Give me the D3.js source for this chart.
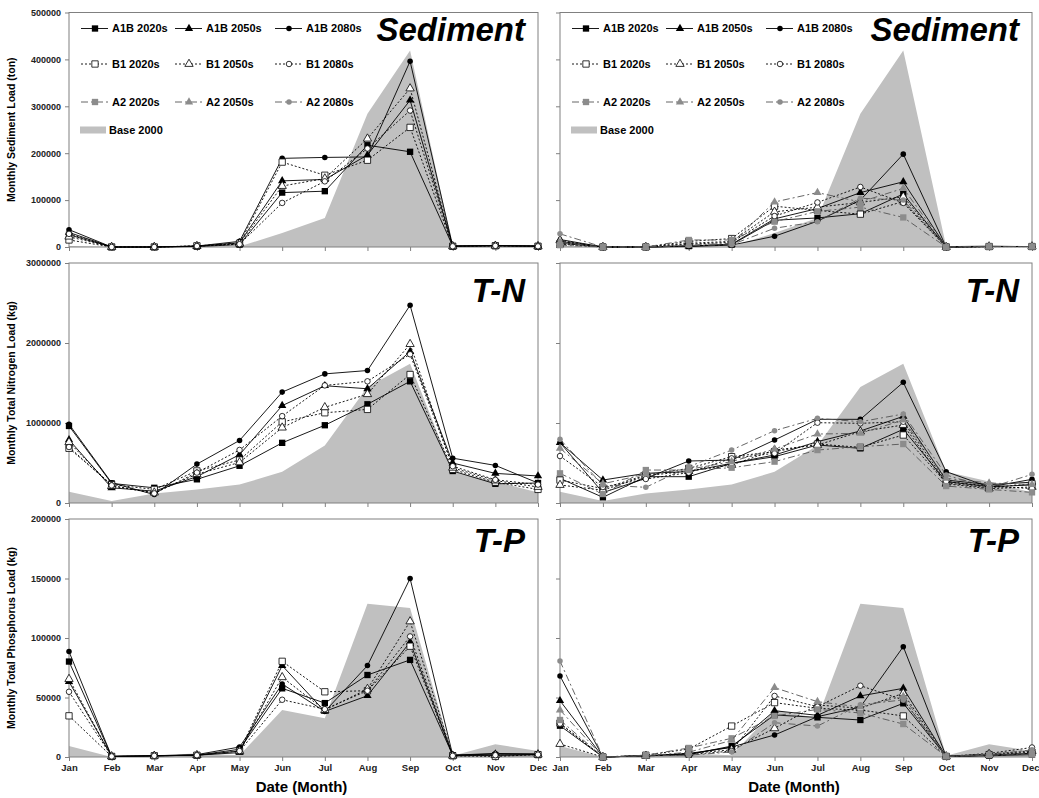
<!DOCTYPE html>
<html>
<head>
<meta charset="utf-8">
<script src="https://cdn.jsdelivr.net/npm/d3@7"></script>
<style>
  body { margin: 0; background: #fff; }
  text { font-family: Arial, "Liberation Sans", sans-serif; }
</style>
</head>
<body>
<svg id="chart" width="1039" height="798"></svg>
<script>
// ---- data ----
const months = ['Jan','Feb','Mar','Apr','May','Jun','Jul','Aug','Sep','Oct','Nov','Dec'];
const periods = ['2020s','2050s','2080s'];
const sedTicks = [0, 100000, 200000, 300000, 400000, 500000];
const tnTicks = [0, 1000000, 2000000, 3000000];
const tpTicks = [0, 50000, 100000, 150000, 200000];

const sedBase = [2000, 0, 0, 0, 1000, 30000, 62000, 284000, 419000, 1000, 5000, 1000];
const tnBase = [140000, 25000, 120000, 170000, 230000, 390000, 720000, 1450000, 1740000, 390000, 270000, 130000];
const tpBase = [9300, 0, 1500, 3000, 1500, 39400, 32600, 128800, 125200, 1000, 10700, 5000];

// left panels: A1B and B1 ; rows = 2020s, 2050s, 2080s
const sedLeftA1B = [
  [26000, 0, 0, 1000, 5000, 116000, 119000, 217000, 203000, 2000, 3000, 2000],
  [31000, 0, 0, 1500, 9000, 141000, 144000, 196000, 313000, 2000, 3000, 2000],
  [37000, 0, 0, 2000, 12000, 189000, 191000, 192000, 396000, 2000, 3000, 2000]
];
const sedLeftB1 = [
  [15000, 0, 0, 2500, 8000, 181000, 153000, 185000, 255000, 1500, 2500, 1500],
  [22000, 0, 0, 2000, 7000, 130000, 146000, 231000, 338000, 1500, 2500, 1500],
  [28000, 0, 0, 2000, 6000, 94000, 140000, 210000, 291000, 1500, 2500, 1500]
];
const sedRightA1B = [
  [8000, 0, 0, 2000, 5000, 57000, 62000, 71000, 113000, 0, 1000, 1000],
  [16000, 0, 0, 2000, 6000, 60000, 82000, 116000, 139000, 0, 1000, 1000],
  [12000, 0, 0, 1000, 4000, 23000, 55000, 100000, 198000, 0, 1000, 1000]
];
const sedRightB1 = [
  [6000, 0, 0, 12000, 18000, 87000, 78000, 70000, 97000, 0, 1000, 1000],
  [14000, 0, 0, 8000, 12000, 75000, 85000, 95000, 107000, 0, 1000, 1000],
  [10000, 0, 0, 6000, 10000, 66000, 95000, 128000, 94000, 0, 1000, 1000]
];
const sedRightA2 = [
  [4000, 0, 0, 15000, 15000, 54000, 76000, 85000, 63000, 0, 1000, 1000],
  [10000, 0, 0, 4000, 8000, 96000, 116000, 96000, 125000, 0, 1000, 1000],
  [28000, 0, 0, 3000, 5000, 40000, 54000, 104000, 100000, 0, 1000, 1000]
];

const tnLeftA1B = [
  [963000, 245000, 190000, 296000, 465000, 752000, 972000, 1234000, 1521000, 400000, 240000, 250000],
  [790000, 190000, 148000, 330000, 604000, 1217000, 1466000, 1428000, 1893000, 500000, 370000, 338000],
  [984000, 253000, 105000, 486000, 782000, 1386000, 1614000, 1656000, 2472000, 560000, 470000, 250000]
];
const tnLeftB1 = [
  [684000, 230000, 170000, 401000, 537000, 1014000, 1128000, 1170000, 1606000, 420000, 260000, 170000],
  [760000, 210000, 130000, 360000, 507000, 942000, 1196000, 1360000, 1986000, 440000, 280000, 200000],
  [700000, 220000, 120000, 380000, 663000, 1086000, 1470000, 1521000, 1859000, 460000, 290000, 230000]
];
const tnRightA1B = [
  [308000, 71000, 329000, 329000, 496000, 579000, 725000, 683000, 921000, 267000, 204000, 225000],
  [754000, 287000, 371000, 392000, 496000, 600000, 767000, 900000, 1083000, 287000, 230000, 260000],
  [754000, 130000, 308000, 525000, 537000, 787000, 1046000, 1046000, 1508000, 392000, 200000, 296000]
];
const tnRightB1 = [
  [287000, 180000, 350000, 433000, 579000, 642000, 737000, 696000, 850000, 250000, 190000, 240000],
  [225000, 160000, 340000, 400000, 475000, 662000, 725000, 892000, 975000, 240000, 180000, 200000],
  [587000, 200000, 300000, 380000, 558000, 621000, 1004000, 996000, 1016000, 270000, 210000, 180000]
];
const tnRightA2 = [
  [371000, 112000, 412000, 412000, 441000, 517000, 662000, 704000, 737000, 212000, 170000, 133000],
  [683000, 240000, 360000, 420000, 517000, 675000, 862000, 871000, 1037000, 308000, 250000, 230000],
  [796000, 225000, 196000, 454000, 662000, 904000, 1058000, 1016000, 1112000, 350000, 190000, 358000]
];

const tpLeftA1B = [
  [80200, 500, 1000, 1500, 6500, 57700, 45300, 68900, 81600, 1500, 1500, 2000],
  [63300, 500, 1000, 1500, 3700, 76800, 38300, 51500, 96500, 1500, 2500, 2500],
  [88600, 500, 1000, 2000, 8400, 61300, 38300, 76800, 150000, 1500, 3000, 2500]
];
const tpLeftB1 = [
  [34600, 500, 1000, 1500, 5000, 80400, 54800, 55700, 93100, 1000, 500, 2000],
  [65500, 500, 1000, 1500, 5000, 67000, 39400, 57100, 113900, 1000, 1500, 2000],
  [54800, 500, 1000, 1500, 5000, 48100, 40200, 55700, 101300, 1000, 1500, 2000]
];
const tpRightA1B = [
  [26300, 0, 1000, 2000, 9200, 35300, 33300, 31100, 45100, 500, 1000, 2000],
  [47300, 0, 1000, 3000, 8000, 38900, 35000, 51300, 57700, 500, 1500, 3000],
  [68100, 0, 1000, 2500, 8400, 18500, 33900, 42000, 92700, 500, 1500, 3000]
];
const tpRightB1 = [
  [28500, 0, 1500, 6700, 26000, 45700, 40900, 39500, 34500, 500, 2000, 4000],
  [10900, 0, 1000, 3000, 6000, 24100, 43700, 41000, 53500, 500, 2500, 5000],
  [28000, 0, 1000, 2000, 5000, 51300, 42300, 59900, 48000, 500, 3000, 8000]
];
const tpRightA2 = [
  [31100, 0, 1500, 7600, 15700, 34500, 40000, 37000, 27700, 500, 1500, 2000],
  [39500, 0, 1000, 4000, 14000, 58300, 46500, 42000, 51000, 500, 2000, 3000],
  [80700, 0, 1000, 1500, 4200, 28800, 26000, 44000, 48000, 500, 2000, 6000]
];

// ---- styles ----
const styleOf = {
  A1B: { stroke: '#000', dash: null, fill: '#000', mstroke: 'none' },
  B1:  { stroke: '#000', dash: '2,2', fill: '#fff', mstroke: '#000' },
  A2:  { stroke: '#555', dash: '7,3,2,3', fill: '#8c8c8c', mstroke: 'none' }
};
const symOf = [d3.symbolSquare, d3.symbolTriangle, d3.symbolCircle];
const symSize = [40, 30, 24];

const svg = d3.select('#chart');

const rows = [
  { top: 12.5, bottom: 247, ticks: sedTicks, base: sedBase, title: 'Sediment', tdy: 28,
    ylab: 'Monthly Sediment Load (ton)', left: { A1B: sedLeftA1B, B1: sedLeftB1 },
    right: { A1B: sedRightA1B, B1: sedRightB1, A2: sedRightA2 } },
  { top: 263, bottom: 503, ticks: tnTicks, base: tnBase, title: 'T-N', tdy: 38.5,
    ylab: 'Monthly Total Nitrogen Load (kg)', left: { A1B: tnLeftA1B, B1: tnLeftB1 },
    right: { A1B: tnRightA1B, B1: tnRightB1, A2: tnRightA2 } },
  { top: 519, bottom: 757, ticks: tpTicks, base: tpBase, title: 'T-P', tdy: 33,
    ylab: 'Monthly Total Phosphorus Load (kg)', left: { A1B: tpLeftA1B, B1: tpLeftB1 },
    right: { A1B: tpRightA1B, B1: tpRightB1, A2: tpRightA2 } }
];
const cols = [{ x0: 69, x1: 538, key: 'left' }, { x0: 560, x1: 1032, key: 'right' }];

rows.forEach((r, ri) => {
  cols.forEach((c, ci) => {
    const x = d3.scalePoint().domain(months).range([c.x0, c.x1]);
    const y = d3.scaleLinear().domain([0, d3.max(r.ticks)]).range([r.bottom, r.top]);
    const g = svg.append('g');

    // base 2000 area
    const area = d3.area().x((d, i) => x(months[i])).y0(y(0)).y1(d => y(d));
    g.append('path').datum(r.base).attr('d', area).attr('fill', '#c0c0c0');

    // frame
    g.append('rect').attr('x', c.x0).attr('y', r.top)
      .attr('width', c.x1 - c.x0).attr('height', r.bottom - r.top)
      .attr('fill', 'none').attr('stroke', '#808080').attr('stroke-width', 1);

    // axes
    const ya = g.append('g').attr('transform', `translate(${c.x0},0)`)
      .call(d3.axisLeft(y).tickValues(r.ticks).tickSize(4).tickPadding(4)
        .tickFormat(ci === 0 ? d3.format('d') : ''));
    ya.select('.domain').remove();
    ya.selectAll('line').attr('stroke', '#808080');
    ya.selectAll('text').attr('font-size', 9).attr('font-weight', 'bold').attr('fill', '#222');

    const xa = g.append('g').attr('transform', `translate(0,${r.bottom})`)
      .call(d3.axisBottom(x).tickSize(4).tickPadding(3)
        .tickFormat(ri === 2 ? d => d : ''));
    xa.select('.domain').remove();
    xa.selectAll('line').attr('stroke', '#808080');
    xa.selectAll('text').attr('font-size', 9.5).attr('font-weight', 'bold').attr('fill', '#222');
    // keep the last month label inside the page on the right panel
    if (ci === 1) xa.selectAll('text').filter(d => d === 'Dec').attr('text-anchor', 'end').attr('dx', 7);

    // series
    const groups = r[c.key];
    Object.keys(groups).forEach(sc => {
      const st = styleOf[sc];
      groups[sc].forEach((vals, pi) => {
        const line = d3.line().x((d, i) => x(months[i])).y(d => y(d));
        g.append('path').datum(vals).attr('d', line)
          .attr('fill', 'none').attr('stroke', st.stroke).attr('stroke-width', 0.9)
          .attr('stroke-dasharray', st.dash);
        g.selectAll(null).data(vals).enter().append('path')
          .attr('d', d3.symbol().type(symOf[pi]).size(symSize[pi]))
          .attr('transform', (d, i) => `translate(${x(months[i])},${y(d)})`)
          .attr('fill', st.fill).attr('stroke', st.mstroke).attr('stroke-width', 0.8);
      });
    });

    // title
    g.append('text').attr('x', c.x1 - 13).attr('y', r.top + r.tdy)
      .attr('text-anchor', 'end').attr('font-size', 33).attr('font-weight', 'bold')
      .attr('font-style', 'italic').text(r.title);

    // legend (top row only)
    if (ri === 0) {
      const lg = g.append('g').attr('transform', `translate(${c.x0},${r.top})`);
      const colX = [12, 106, 206];
      const rowY = [16, 51.5, 89.5];
      ['A1B', 'B1', 'A2'].forEach((sc, si) => {
        const st = styleOf[sc];
        periods.forEach((p, pi) => {
          const lx = colX[pi], ly = rowY[si];
          lg.append('line').attr('x1', lx).attr('x2', lx + 27).attr('y1', ly).attr('y2', ly)
            .attr('stroke', st.stroke).attr('stroke-width', 0.9).attr('stroke-dasharray', st.dash);
          lg.append('path').attr('d', d3.symbol().type(symOf[pi]).size(symSize[pi]))
            .attr('transform', `translate(${lx + 14},${ly})`)
            .attr('fill', st.fill).attr('stroke', st.mstroke).attr('stroke-width', 0.8);
          lg.append('text').attr('x', lx + 31).attr('y', ly).attr('dy', '0.36em')
            .attr('font-size', 11).attr('font-weight', 'bold').text(`${sc} ${p}`);
        });
      });
      lg.append('rect').attr('x', 11).attr('y', 114).attr('width', 26).attr('height', 7)
        .attr('fill', '#c0c0c0');
      lg.append('text').attr('x', 40).attr('y', 117.5).attr('dy', '0.36em')
        .attr('font-size', 11).attr('font-weight', 'bold').text('Base 2000');
    }

    // y title
    if (ci === 0) {
      svg.append('text')
        .attr('transform', `translate(15,${(r.top + r.bottom) / 2}) rotate(-90)`)
        .attr('text-anchor', 'middle').attr('font-size', 10.5).attr('font-weight', 'bold')
        .text(r.ylab);
    }
    // x title
    if (ri === 2) {
      svg.append('text').attr('x', (c.x0 + c.x1) / 2 - 2).attr('y', 792)
        .attr('text-anchor', 'middle').attr('font-size', 15).attr('font-weight', 'bold')
        .text('Date (Month)');
    }
  });
});
</script>
</body>
</html>
